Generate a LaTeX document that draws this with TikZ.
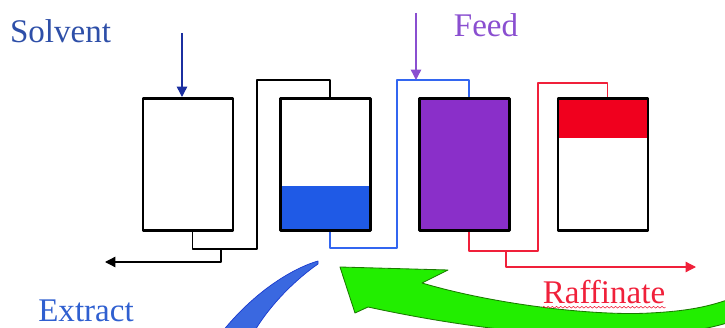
\documentclass[tikz,border=0pt]{standalone}
\usepackage{fontspec}
\setmainfont{Liberation Serif}
\usepackage{tikz}
\usetikzlibrary{arrows.meta,decorations.pathmorphing}
\definecolor{solvtxt}{HTML}{2E4FA8}
\definecolor{solvarr}{HTML}{1B2FA0}
\definecolor{extxt}{HTML}{2F5FD0}
\definecolor{feedtxt}{HTML}{8A4FD0}
\definecolor{liqblue}{HTML}{1F5AE6}
\definecolor{bpipe}{HTML}{3366F0}
\definecolor{purp}{HTML}{8A2FC9}
\definecolor{rliq}{HTML}{F0001E}
\definecolor{rpipe}{HTML}{F0203A}
\definecolor{grn}{HTML}{22EE00}
\definecolor{grndk}{HTML}{1A7A00}
\definecolor{cres}{HTML}{3A68E0}
\definecolor{cresdk}{HTML}{1A3ACF}
\tikzset{fig/.style={line join=round,>={Triangle[width=2.6mm,length=2.6mm]}},
  tank/.style={draw,line width=2.1pt,minimum width=2.25cm,minimum height=3.3cm,inner sep=0pt},
  pipe/.style={line width=0.9pt},
  lbl/.style={font=\fontsize{23.5}{26}\selectfont,inner sep=0pt,anchor=base}}

\begin{document}
\begin{tikzpicture}[fig,x=0.025cm,y=-0.025cm]
  \useasboundingbox (0,0) rectangle (725,328);
  \begin{scope}\clip (0,0) rectangle (725,328);
   \filldraw[fill=cres,draw=cresdk,line width=0.5pt](318,261) .. controls (300,266) and (260,285) .. (222,332) -- (254,332) .. controls (270,305) and (295,280) .. (318,264) -- cycle;
   \filldraw[fill=grn,draw=grndk,line width=0.6pt](340,267) -- (448,270) -- (422,283) .. controls (500,306) and (600,316) .. (650,313) .. controls (690,311) and (710,306) .. (730,299)
    -- (730,322) .. controls (660,345) and (520,340) .. (368,307) -- (355,313) -- cycle;
  \end{scope}
  \node[tank] (b1) at (188,164.5) {};
  \node[tank,path picture={\fill[liqblue]([yshift=1.11cm]path picture bounding box.south west) rectangle (path picture bounding box.south east);}] (b2) at (325.5,164.5) {};
  \node[tank,fill=purp] (b3) at (464.5,164.5) {};
  \node[tank,path picture={\fill[rliq]([yshift=-0.99cm]path picture bounding box.north east) rectangle (path picture bounding box.north west);}] (b4) at (603,164.5) {};
  \node[lbl,text=solvtxt] (solvent) at (60.5,43) {Solvent};
  \node[lbl,text=feedtxt] (feed) at (486,37) {Feed};
  \node[lbl,text=extxt] (extract) at (86,321) {Extract};
  \node[lbl,text=rpipe] (raffinate) at (604,303) {Raffinate};
  \draw[rpipe,decorate,decoration={snake,amplitude=0.6pt,segment length=3pt}]([yshift=-3pt]raffinate.base west) -- ([yshift=-3pt]raffinate.base east);
  \coordinate (sv) at (182,33); \coordinate (fd) at (416,13);
  \coordinate (j1) at (221,249); \coordinate (j2) at (416,80); \coordinate (j3) at (506,251);
  \coordinate (ex) at (105,262); \coordinate (rf) at (696,267);
  \draw[pipe]([xshift=1.1mm]b1.south) |- (257,249) |- (300,80) -| ([xshift=1.1mm]b2.north);
  \draw[pipe,bpipe]([xshift=1.1mm]b2.south) |- (397,248) |- (430,80) -| ([xshift=1.1mm]b3.north);
  \draw[pipe,rpipe]([xshift=1.1mm]b3.south) |- (538,251) |- (570,83) -| ([xshift=1.1mm]b4.north);
  \draw[pipe,->](j1) |- (ex); \draw[pipe,rpipe,->](j3) |- (rf);
  \draw[solvarr,line width=1pt,->](sv) -- (sv |- b1.north);
  \draw[feedtxt,line width=1pt,->](fd) -- (j2);
\end{tikzpicture}
\end{document}
